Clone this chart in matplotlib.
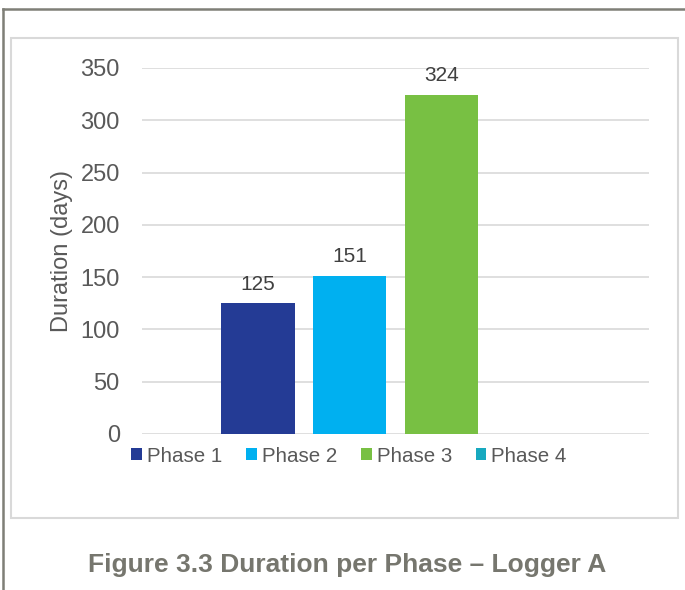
import matplotlib
matplotlib.use("Agg")
import matplotlib.pyplot as plt
from matplotlib.patches import Rectangle, Patch
from matplotlib.lines import Line2D

plt.rcParams['font.family'] = ['Liberation Sans', 'DejaVu Sans']

phases = ["Phase 1", "Phase 2", "Phase 3", "Phase 4"]
durations = [125, 151, 324, 0]
show_label = [True, True, True, False]
colors = ["#243B95", "#00B0F0", "#78C043", "#17A9BF"]
yticks = [0, 50, 100, 150, 200, 250, 300, 350]
ylabel = "Duration (days)"
caption = "Figure 3.3 Duration per Phase \u2013 Logger A"

W, H = 685, 590
fig = plt.figure(figsize=(W / 100, H / 100), dpi=100)

def fx(px):
    return px / W

def fy(py):
    return 1 - py / H

# outer frame (top and left)
fig.add_artist(Line2D([fx(3), fx(685)], [fy(9), fy(9)], color="#7f7f77", lw=1.8))
fig.add_artist(Line2D([fx(3), fx(3)], [fy(9), fy(590)], color="#7f7f77", lw=1.8))
# inner chart box
fig.add_artist(Rectangle((fx(11), fy(518)), fx(678) - fx(11), fy(38) - fy(518),
                         fill=False, edgecolor="#d9d9d9", lw=1.5))

ax = fig.add_axes([fx(142), fy(434), fx(649) - fx(142), fy(68) - fy(434)])
x = list(range(len(phases)))
bars = ax.bar(x, durations, width=0.8, color=colors, zorder=3)
for xi, v, s in zip(x, durations, show_label):
    if s:
        ax.annotate(str(v), (xi, v), xytext=(0, 7), textcoords="offset points",
                    ha="center", va="bottom", fontsize=15, color="#404040")

ax.set_xlim(-1.265, 4.265)
ax.set_ylim(0, 350)
ax.set_yticks(yticks)
ax.set_xticks([])
ax.tick_params(axis="y", length=0, pad=16, labelsize=17, labelcolor="#595959")
ax.grid(axis="y", color="#d9d9d9", lw=1.2, zorder=0)
for sp in ax.spines.values():
    sp.set_visible(False)
ax.set_ylabel(ylabel, fontsize=17, color="#595959")
ax.yaxis.set_label_coords((62 - 142) / (649 - 142), 0.5)
ax.yaxis.label.set_va("center")

handles = [Patch(facecolor=c, edgecolor="none") for c in colors]
fig.legend(handles, phases, loc="center", bbox_to_anchor=(fx(349), fy(456)), ncol=4,
           frameon=False, fontsize=14.75, labelcolor="#595959",
           handlelength=0.53, handleheight=0.53, handletextpad=0.25, columnspacing=1.15)

fig.text(fx(347.5), fy(565), caption, ha="center", va="center", fontsize=19,
         fontweight="bold", color="#76766e")

fig.savefig("out.png", dpi=100)
